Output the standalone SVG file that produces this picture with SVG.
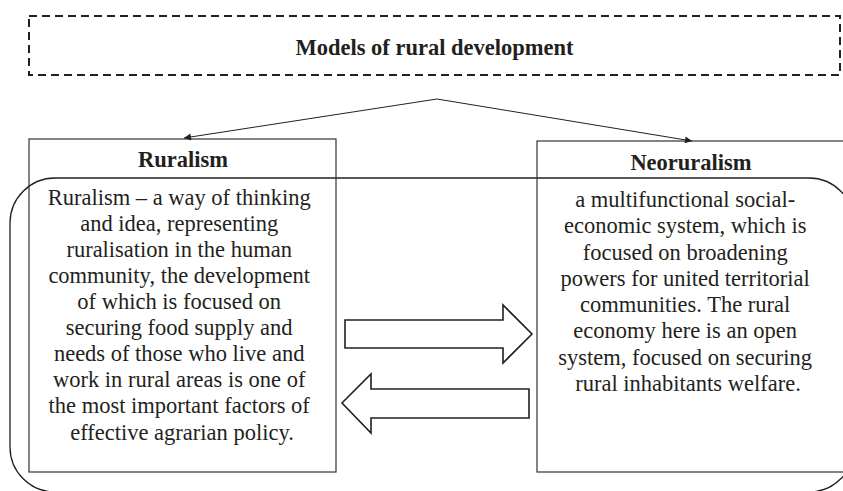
<svg xmlns="http://www.w3.org/2000/svg" width="843" height="491" viewBox="0 0 843 491">
<defs>
<style>
.t{font-family:"Liberation Serif","Times New Roman",serif;font-size:22.5px;fill:#231f20;text-anchor:middle}
.b{font-weight:bold}
.box{fill:none;stroke:#333;stroke-width:1.2}
.blk{fill:#fff;stroke:#231f20;stroke-width:1.6}
.con{fill:none;stroke:#231f20;stroke-width:1}
</style>
<marker id="ah" viewBox="0 0 10 10" refX="10" refY="5" markerWidth="10" markerHeight="7" markerUnits="userSpaceOnUse" orient="auto">
<path d="M0,0 L10,5 L0,10 z" fill="#231f20"/>
</marker>
</defs>
<rect width="843" height="491" fill="#fff"/>

<g id="frame">
<rect x="10" y="178" width="844" height="314" rx="45" ry="45" fill="none" stroke="#231f20" stroke-width="1.3"/>
</g>

<g id="title">
<rect x="29" y="16" width="811" height="59" fill="none" stroke="#231f20" stroke-width="2" stroke-dasharray="8,5"/>
<text class="t b" x="434.5" y="55">Models of rural development</text>
</g>

<g id="ruralism">
<rect class="box" x="29" y="139" width="307" height="333"/>
<text class="t b" x="183" y="167">Ruralism</text>
<text class="t" x="182">
<tspan x="182" y="205">Ruralism – a way of thinking</tspan>
<tspan x="182" y="231">and idea, representing</tspan>
<tspan x="182" y="257">ruralisation in the human</tspan>
<tspan x="182" y="283">community, the development</tspan>
<tspan x="182" y="309">of which is focused on</tspan>
<tspan x="182" y="335">securing food supply and</tspan>
<tspan x="182" y="361">needs of those who live and</tspan>
<tspan x="182" y="387">work in rural areas is one of</tspan>
<tspan x="182" y="413">the most important factors of</tspan>
<tspan x="182" y="440">effective agrarian policy.</tspan>
</text>
</g>

<g id="neoruralism">
<rect class="box" x="537" y="141" width="320" height="331"/>
<text class="t b" x="691" y="170">Neoruralism</text>
<text class="t" x="688">
<tspan x="688" y="207">a multifunctional social-</tspan>
<tspan x="688" y="233">economic system, which is</tspan>
<tspan x="688" y="260">focused on broadening</tspan>
<tspan x="688" y="286">powers for united territorial</tspan>
<tspan x="688" y="312">communities. The rural</tspan>
<tspan x="688" y="338">economy here is an open</tspan>
<tspan x="688" y="365">system, focused on securing</tspan>
<tspan x="688" y="391">rural inhabitants welfare.</tspan>
</text>
</g>

<g id="connectors">
<line class="con" x1="437" y1="99" x2="184" y2="138" marker-end="url(#ah)"/>
<line class="con" x1="437" y1="99" x2="692" y2="141" marker-end="url(#ah)"/>
<polygon class="blk" points="345,320 503,320 503,305 532,334 503,363 503,348 345,348"/>
<polygon class="blk" points="529,389 371,389 371,374 342,403 371,433 371,418 529,418"/>
</g>
</svg>
